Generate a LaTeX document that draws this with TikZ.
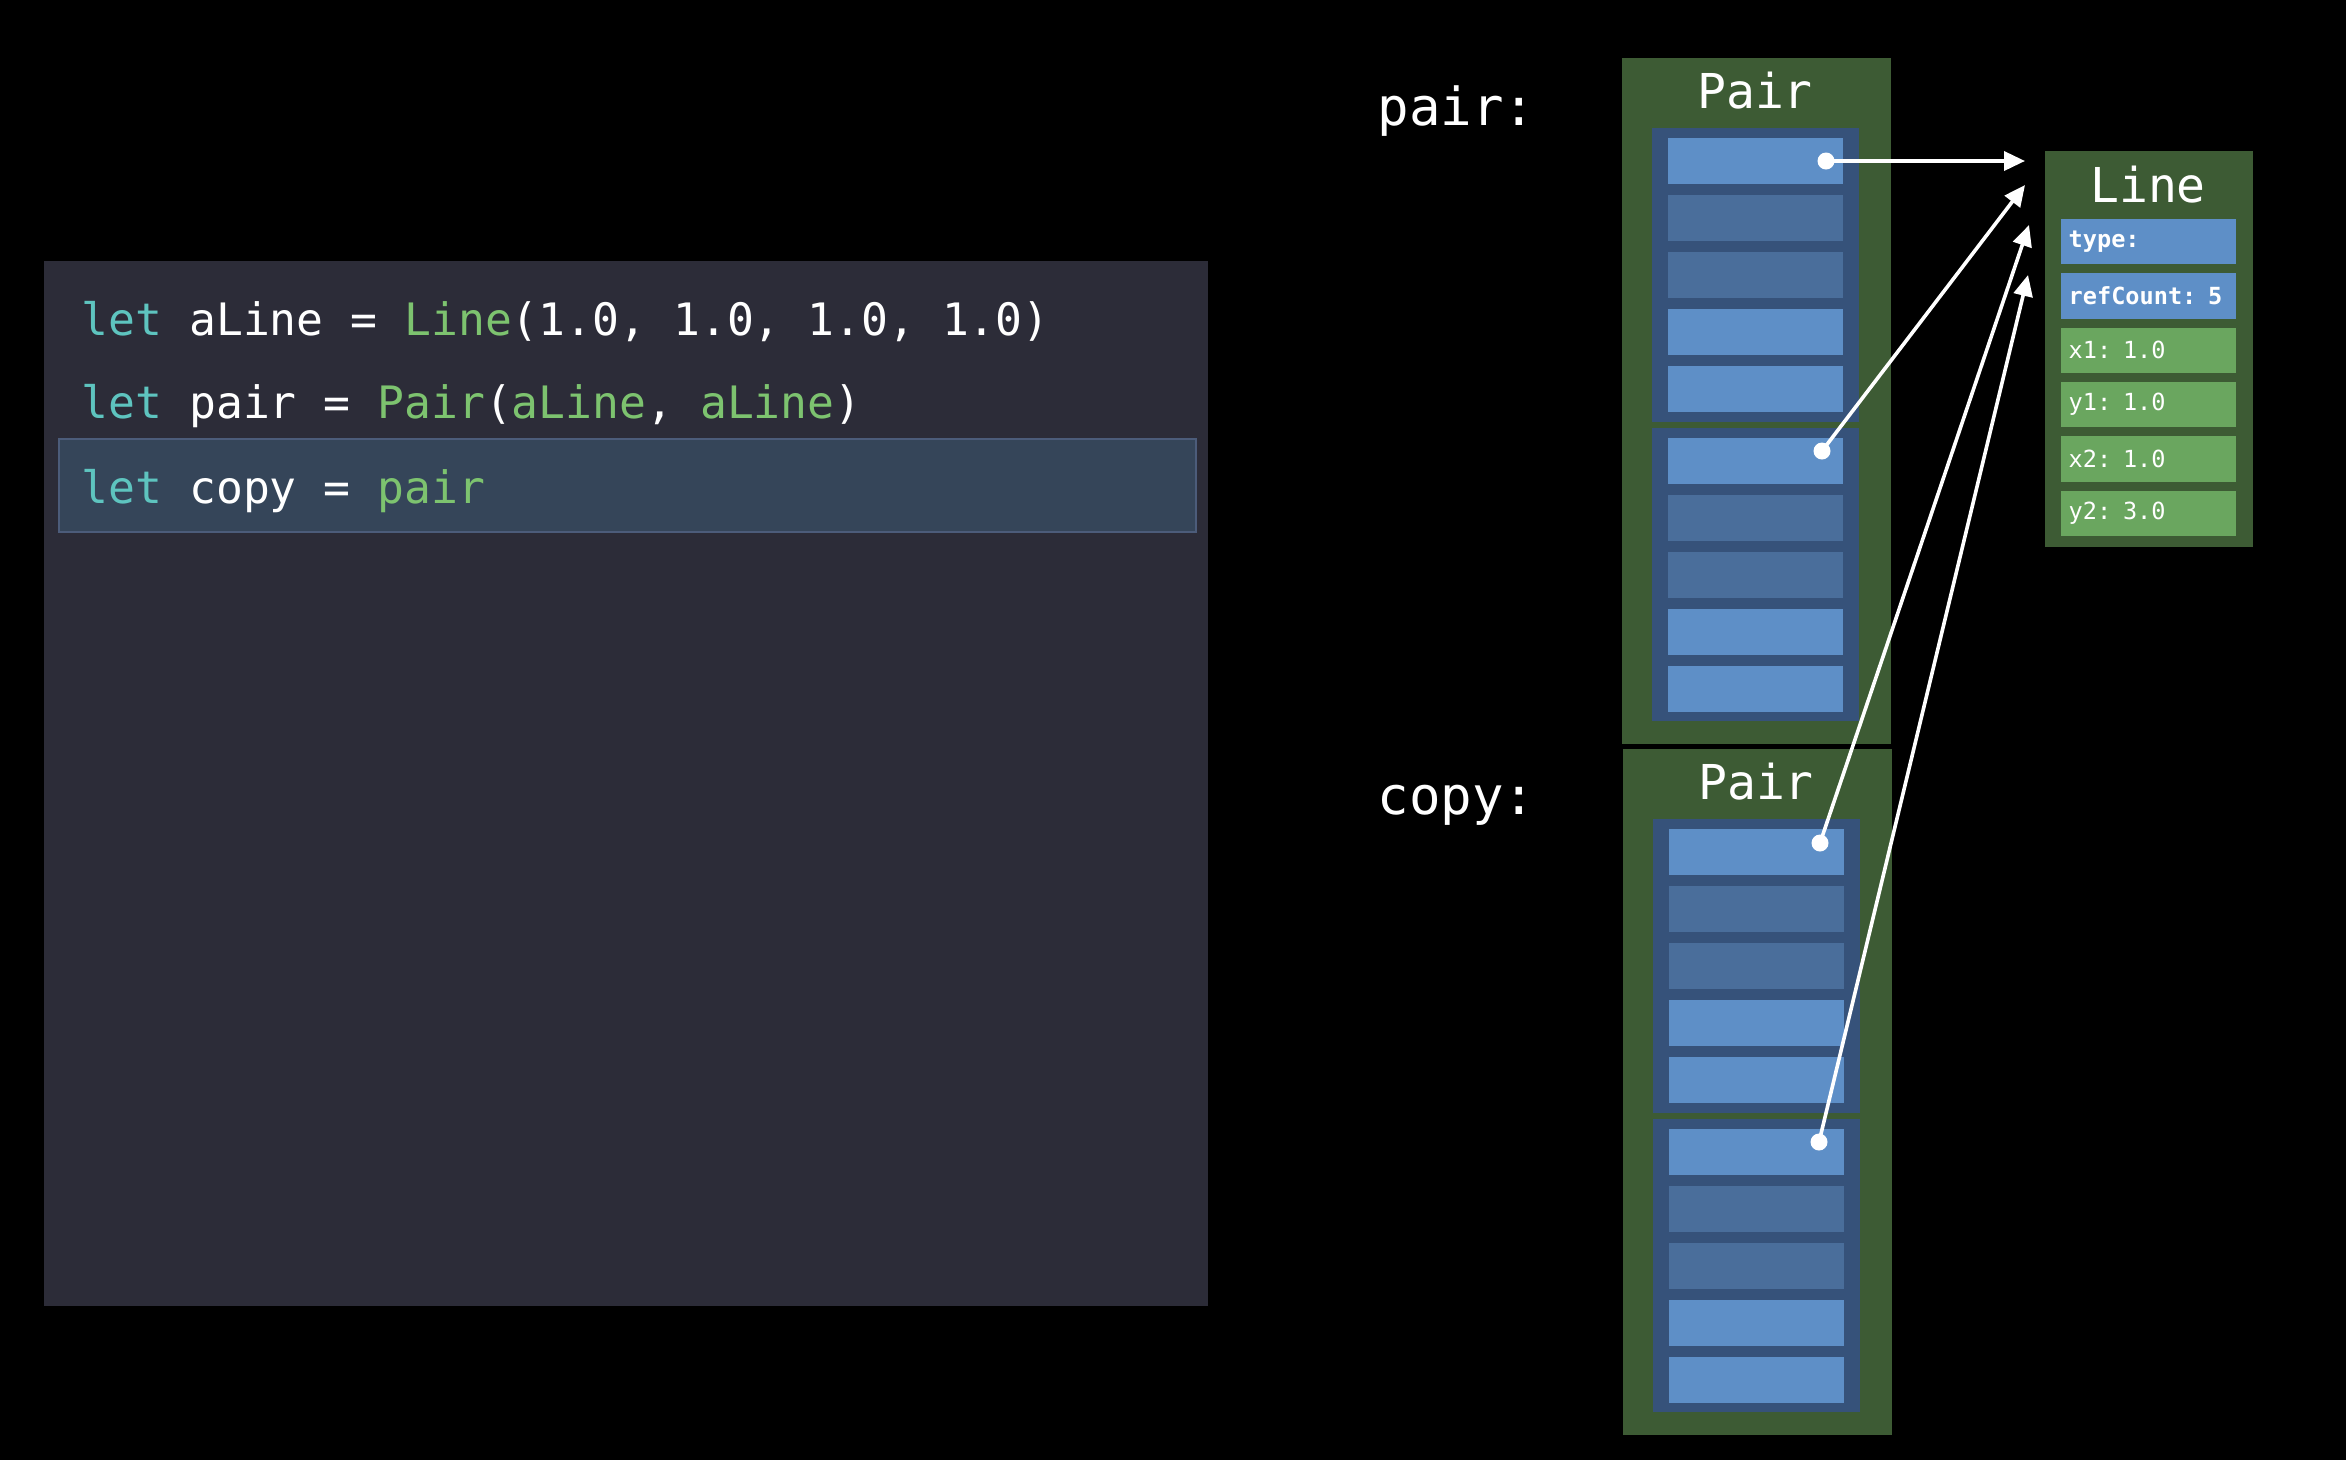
\documentclass[tikz,border=0pt]{standalone}
\usepackage{fontspec}
\newfontfamily\mono{DejaVu Sans Mono}
\usetikzlibrary{arrows.meta}
\definecolor{panel}{HTML}{2C2C38}
\definecolor{hlfill}{HTML}{354559}
\definecolor{hldraw}{HTML}{4C5C7A}
\definecolor{kw}{HTML}{5EC4BF}
\definecolor{gr}{HTML}{7DC36F}
\definecolor{pairgreen}{HTML}{3D5B34}
\definecolor{grpblue}{HTML}{36527A}
\definecolor{cellbright}{HTML}{5E8FC7}
\definecolor{celldark}{HTML}{4A6E9B}
\definecolor{fieldgreen}{HTML}{6AA65F}
\tikzset{
  pairbox/.style={fill=pairgreen, draw=none, inner sep=0, anchor=north west, minimum width=2.69cm, minimum height=6.86cm},
  grp/.style={fill=grpblue, draw=none, inner sep=0, anchor=north west, minimum width=2.07cm, minimum height=2.94cm},
  cellbox/.style={draw=none, inner sep=0, anchor=north west, minimum width=1.75cm, minimum height=0.46cm},
  titletext/.style={text=white, inner sep=0, anchor=base, font=\mono\fontsize{13.66pt}{16pt}\selectfont},
  labeltext/.style={text=white, inner sep=0, anchor=base west, font=\mono\fontsize{14.9pt}{17pt}\selectfont},
  codetext/.style={text=white, inner sep=0, anchor=base west, font=\mono\fontsize{12.7pt}{15pt}\selectfont},
  fieldbox/.style={draw=none, anchor=north west, text width=1.59cm, inner xsep=0.08cm, inner ysep=0, minimum height=0.455cm, align=left, text=white, font=\mono\fontsize{6.7pt}{8pt}\selectfont},
  dot/.style={circle, fill=white, inner sep=0, minimum size=0.17cm},
  ptr/.style={draw=white, line width=0.036cm, -{Triangle[length=0.21cm,width=0.19cm]}},
}
\newcommand\drawpair[3]{%
  \node[pairbox] (#1) at (#2,#3) {};
  \node[titletext] (#1title) at (#2+134,#3+51) {Pair};
  \node[grp] (#1ga) at (#2+30,#3+70) {};
  \node[grp, minimum height=2.93cm] (#1gb) at (#2+30,#3+370) {};
  \foreach \k/\c in {0/cellbright,1/celldark,2/celldark,3/cellbright,4/cellbright}{
    \node[cellbox, fill=\c] (#1a\k) at (#2+46,#3+80+57*\k) {};
    \node[cellbox, fill=\c] (#1b\k) at (#2+46,#3+380+57*\k) {};
  }
}
\begin{document}
\begin{tikzpicture}[x=0.01cm,y=-0.01cm]
\fill[black] (0,0) rectangle (2346,1460);
\useasboundingbox (0,0) rectangle (2346,1460);
% code panel
\node[fill=panel, inner sep=0, anchor=north west, minimum width=11.64cm, minimum height=10.45cm] (panel) at (43,260) {};
\node[fill=hlfill, draw=hldraw, line width=0.02cm, inner sep=0, anchor=north west, minimum width=11.36cm, minimum height=0.93cm] (hl) at (58,438) {};
\node[codetext] (l1) at (81,335) {\textcolor{kw}{let} aLine = \textcolor{gr}{Line}(1.0, 1.0, 1.0, 1.0)};
\node[codetext] (l2) at (81,418) {\textcolor{kw}{let} pair = \textcolor{gr}{Pair}(\textcolor{gr}{aLine}, \textcolor{gr}{aLine})};
\node[codetext] (l3) at (81,503) {\textcolor{kw}{let} copy = \textcolor{gr}{pair}};
% labels
\node[labeltext] (lpair) at (1377,125) {pair:};
\node[labeltext] (lcopy) at (1377,814) {copy:};
% pairs
\drawpair{P}{1621}{57}
\drawpair{Q}{1622}{748}
% Line object
\node[fill=pairgreen, inner sep=0, anchor=north west, minimum width=2.08cm, minimum height=3.96cm] (line) at (2044,150) {};
\node[titletext] (linetitle) at (2148,202) {Line};
\node[fieldbox, fill=cellbright] (f0) at (2060,218) {\bfseries type:};
\node[fieldbox, fill=cellbright] (f1) at (2060,272.4) {\bfseries refCount: 5};
\node[fieldbox, fill=fieldgreen] (f2) at (2060,326.8) {x1: 1.0};
\node[fieldbox, fill=fieldgreen] (f3) at (2060,381.2) {y1: 1.0};
\node[fieldbox, fill=fieldgreen] (f4) at (2060,435.6) {x2: 1.0};
\node[fieldbox, fill=fieldgreen] (f5) at (2060,490) {y2: 3.0};
% pointers
\coordinate (t1) at (2025,161);
\coordinate (t2) at (2025,185);
\coordinate (t3) at (2029,225);
\coordinate (t4) at (2028,275);
\node[dot] (d1) at (1826,161) {};
\node[dot] (d2) at (1822,451) {};
\node[dot] (d3) at (1820,843) {};
\node[dot] (d4) at (1819,1142) {};
\draw[ptr] (d1.center) -- (t1);
\draw[ptr] (d2.center) -- (t2);
\draw[ptr] (d3.center) -- (t3);
\draw[ptr] (d4.center) -- (t4);
\end{tikzpicture}
\end{document}
